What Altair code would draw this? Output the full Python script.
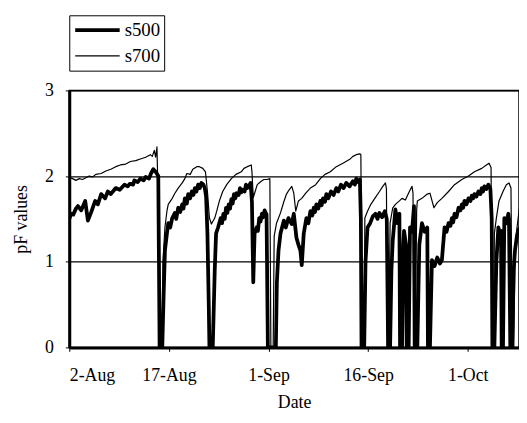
import altair as alt
import pandas as pd

# day offsets from 2-Aug and pF values
s500_day = [0.0, 0.3, 0.6, 1.0, 1.3, 1.8, 2.4, 2.8, 3.3, 3.9, 4.3, 4.8, 5.4, 5.8, 6.25, 7.0, 7.6, 8.3, 8.8, 9.1,
            9.6, 9.8, 10.3, 10.7, 11.2, 11.5, 12.0, 12.3, 12.65, 13.0, 13.4, 13.6,
            14.0, 14.2, 14.4, 14.7, 14.9, 15.2, 15.5, 15.9, 16.1, 16.4, 16.7, 17.0, 17.2, 17.4, 17.7, 17.9, 18.2,
            18.45, 18.7, 18.9, 19.15, 19.4, 19.65, 19.9, 20.2, 20.4, 20.6, 20.8, 21.0, 21.1,
            21.6, 21.9, 22.1, 22.4, 22.8, 23.0, 23.2, 23.4, 23.6, 23.8, 24.0, 24.2, 24.4, 24.6, 24.8, 25.0, 25.2,
            25.5, 25.7, 25.9, 26.1, 26.4, 26.6, 26.8, 27.0, 27.3, 27.5, 27.7, 27.9, 28.2, 28.4, 28.6, 28.8, 29.0,
            29.2, 29.4, 29.7, 29.9,
            31.1, 31.25, 31.5, 31.8, 32.3, 32.6, 33.0, 33.5, 33.8, 34.2, 34.5, 34.8, 35.0, 35.3, 35.7, 36.0, 36.3,
            36.6, 36.8, 37.0, 37.2, 37.5, 37.8, 38.0, 38.2, 38.5, 38.7, 39.0, 39.4, 39.8, 40.2, 40.5, 40.9, 41.3,
            41.7, 42.2, 42.7, 43.0, 43.2, 43.5, 43.75, 43.9, 44.0,
            44.4, 44.6, 44.9, 45.3, 45.7, 46.1, 46.4, 46.7, 47.1, 47.5, 47.8, 48.0, 48.3, 48.5, 48.7, 49.1, 49.4,
            49.7, 49.8, 50.1, 50.3, 50.4, 50.7, 50.8, 51.1, 51.3, 51.6, 51.9, 52.0, 52.4, 52.7, 53.1, 53.5, 53.9,
            54.0, 54.3, 54.6, 55.0, 55.4, 55.8, 56.1, 56.5, 56.8, 57.1, 57.4, 57.6, 57.8, 58.0, 58.3, 58.6, 58.9,
            59.1, 59.3, 59.5, 59.8, 60.1, 60.4, 60.6, 60.8, 61.0, 61.3, 61.6, 61.9, 62.1, 62.3, 62.5, 62.8, 63.1,
            63.4, 63.6, 63.7,
            64.0, 64.3, 64.6, 64.9, 65.0, 65.1, 65.3, 65.5, 65.8, 66.1, 66.2, 66.4, 66.7, 66.9, 67.1, 67.4, 67.6, 67.8]
s500_pf = [1.50, 1.56, 1.55, 1.62, 1.65, 1.60, 1.71, 1.48, 1.58, 1.71, 1.67, 1.79, 1.74, 1.82, 1.79, 1.86, 1.84, 1.90, 1.88, 1.91,
           1.90, 1.95, 1.93, 1.97, 1.95, 1.99, 1.97, 2.03, 2.08, 2.05, 2.00, 0.0,
           0.0, 0.6, 1.13, 1.33, 1.45, 1.40, 1.51, 1.57, 1.50, 1.63, 1.58, 1.67, 1.62, 1.74, 1.68, 1.79, 1.74,
           1.82, 1.78, 1.86, 1.82, 1.90, 1.86, 1.92, 1.90, 1.86, 1.76, 1.33, 0.5, 0.0,
           0.0, 0.9, 1.33, 1.40, 1.51, 1.45, 1.56, 1.50, 1.63, 1.57, 1.67, 1.62, 1.73, 1.68, 1.79, 1.74, 1.80,
           1.78, 1.86, 1.81, 1.84, 1.82, 1.90, 1.86, 1.88, 1.92, 1.70, 0.76, 1.33, 1.40, 1.36, 1.51, 1.47, 1.56,
           1.52, 1.60, 1.55, 0.0,
           0.0, 0.75, 1.13, 1.33, 1.48, 1.40, 1.51, 1.44, 1.56, 1.28, 1.20, 1.13, 0.96, 1.33, 1.51, 1.45, 1.59,
           1.54, 1.63, 1.58, 1.67, 1.62, 1.71, 1.66, 1.74, 1.70, 1.79, 1.74, 1.82, 1.78, 1.86, 1.82, 1.90, 1.86,
           1.92, 1.88, 1.94, 1.90, 1.97, 1.93, 1.96, 1.50, 0.0,
           0.0, 1.0, 1.40, 1.45, 1.53, 1.56, 1.50, 1.57, 1.52, 1.59, 1.50, 0.0, 0.0, 0.9, 1.25, 1.61, 1.45,
           1.56, 0.0, 0.0, 1.2, 1.36, 1.2, 0.0, 0.0, 1.40, 1.35, 1.65, 0.0, 0.0, 1.2, 1.45, 1.35, 1.40,
           0.0, 0.0, 1.02, 0.95, 1.05, 0.98, 1.02, 1.40, 1.35, 1.45, 1.42, 1.51, 1.46, 1.56, 1.52, 1.63, 1.60,
           1.67, 1.63, 1.71, 1.67, 1.74, 1.71, 1.77, 1.74, 1.79, 1.76, 1.82, 1.79, 1.86, 1.82, 1.88, 1.85, 1.90,
           1.85, 1.50, 0.0,
           0.0, 1.0, 1.40, 1.30, 1.36, 0.0, 0.0, 1.51, 1.45, 1.56, 1.50, 0.0, 0.0, 0.9, 1.13, 1.30, 1.36, 1.40]

s700_day = [0.0, 0.5, 1.0, 1.5, 2.0, 2.5, 3.0, 3.5, 4.0, 4.8, 5.5, 6.25, 7.0, 7.7, 8.5, 9.2, 10.0, 10.7, 11.5,
            12.2, 12.5, 12.8, 13.0, 13.2, 13.3, 13.45, 13.6,
            14.0, 14.1, 14.4, 14.7, 14.9, 15.5, 15.9, 16.4, 17.0, 17.4, 17.7, 18.2, 18.6, 19.2, 19.6, 20.1, 20.5,
            20.8, 21.1, 21.4, 21.9, 22.2, 22.6, 23.1, 23.7, 24.4, 25.1, 25.9, 26.3, 26.8, 27.4, 27.5, 27.7, 27.9,
            28.3, 28.9, 29.3, 29.8, 30.2, 30.35,
            30.7, 30.85, 31.2, 31.8, 32.3, 32.7, 33.1, 33.5, 33.8, 34.1, 34.5, 35.0, 35.6, 36.3, 37.1, 37.8, 38.5,
            39.3, 40.2, 41.2, 42.3, 42.7, 43.2, 43.75, 43.9, 44.1,
            44.4, 44.5, 44.9, 45.4, 46.0, 46.7, 47.2, 47.6, 47.75, 47.9, 48.1, 48.3, 48.7, 49.1, 49.7, 50.1, 50.6,
            51.2, 51.6, 51.75, 51.9, 52.1, 52.3, 52.4, 53.1, 53.9, 54.3, 54.9, 55.4, 56.1, 57.1, 58.0, 59.1, 60.1,
            61.0, 62.1, 62.8, 63.2, 63.5, 63.7,
            63.9, 64.0, 64.3, 64.7, 65.3, 65.8, 66.2, 66.5, 66.7, 66.9, 67.1, 67.3, 67.8]
s700_pf = [1.98, 1.97, 1.95, 1.97, 1.96, 1.98, 2.00, 1.99, 2.02, 2.03, 2.06, 2.08, 2.11, 2.13, 2.14, 2.17, 2.18, 2.20, 2.22,
           2.25, 2.23, 2.30, 2.22, 2.34, 2.00, 2.00, 0.0,
           0.0, 1.0, 1.40, 1.59, 1.67, 1.74, 1.80, 1.86, 1.92, 1.97, 2.03, 2.02, 2.08, 2.11, 2.11, 2.09, 2.05,
           1.82, 1.51, 1.44, 1.51, 1.59, 1.71, 1.82, 1.90, 1.97, 2.02, 2.05, 2.09, 2.11, 2.13, 2.05, 1.75, 1.80,
           1.90, 1.94, 1.96, 1.96, 1.97, 0.0,
           0.0, 1.30, 1.45, 1.57, 1.70, 1.79, 1.84, 1.88, 1.80, 1.59, 1.71, 1.74, 1.80, 1.86, 1.90, 1.97, 2.02,
           2.05, 2.11, 2.15, 2.20, 2.23, 2.25, 2.26, 2.25, 0.0,
           0.0, 1.51, 1.59, 1.67, 1.74, 1.82, 1.88, 1.92, 1.85, 0.0, 0.0, 1.45, 1.63, 1.67, 1.71, 1.74, 1.72,
           1.82, 1.88, 1.80, 0.0, 0.0, 1.60, 1.71, 1.74, 1.79, 1.80, 1.63, 1.69, 1.74, 1.82, 1.90, 1.96, 2.00,
           2.05, 2.09, 2.13, 2.15, 2.10, 0.0,
           0.0, 1.33, 1.51, 1.71, 1.82, 1.90, 1.92, 1.86, 0.0, 0.0, 1.00, 1.33, 1.65]

series_names = ["s500", "s700"]
series_widths = [3.8, 1.2]
tick_dates = [(8, 2), (8, 17), (9, 1), (9, 16), (10, 1)]
y_ticks = [0, 1, 2, 3]

base = pd.Timestamp("2001-08-02")


def make_frame(days, vals, name):
    return pd.DataFrame({
        "Date": [(base + pd.Timedelta(days=d)).strftime("%Y-%m-%dT%H:%M:%S") for d in days],
        "pF": vals,
        "series": name,
    })


df = pd.concat([make_frame(s500_day, s500_pf, series_names[0]),
                make_frame(s700_day, s700_pf, series_names[1])], ignore_index=True)

font = "Liberation Serif"

chart = alt.Chart(df).mark_line(color="black", clip=True, strokeJoin="round").encode(
    x=alt.X("Date:T",
            scale=alt.Scale(domain=[alt.DateTime(year=2001, month=8, date=2),
                                    alt.DateTime(year=2001, month=10, date=8, hours=17)]),
            axis=alt.Axis(values=[alt.DateTime(year=2001, month=m, date=d) for m, d in tick_dates],
                          format="%-d-%b", title="Date", grid=False, tickSize=4, tickColor="black",
                          domainColor="black", domainWidth=3, labelPadding=16, titlePadding=9)),
    y=alt.Y("pF:Q", scale=alt.Scale(domain=[0, 3]),
            axis=alt.Axis(values=y_ticks, title="pF values", grid=True, gridColor="black", gridWidth=1.2,
                          gridOpacity=1, tickSize=4, tickColor="black", domainColor="black", domainWidth=3,
                          labelPadding=12, titlePadding=14)),
    strokeWidth=alt.StrokeWidth("series:N",
                                scale=alt.Scale(domain=series_names, range=series_widths),
                                legend=alt.Legend(title=None, orient="none", legendX=0, legendY=-76,
                                                  symbolType="stroke", symbolStrokeColor="black",
                                                  symbolSize=2025, clipHeight=22, rowPadding=4,
                                                  strokeColor="black", padding=4, labelOffset=3,
                                                  labelFont=font, labelFontSize=19, labelColor="black")),
    order=alt.Order("Date:T"),
).properties(
    width=455, height=260,
    padding={"left": 5, "top": 4, "right": 0, "bottom": 0},
).configure_view(
    stroke="black", strokeWidth=1.5
).configure_axis(
    labelFont=font, titleFont=font, labelFontSize=18, titleFontSize=18,
    labelColor="black", titleColor="black", titleFontWeight="normal",
)

chart.save("out.html", embed_options={"renderer": "svg", "actions": False})
